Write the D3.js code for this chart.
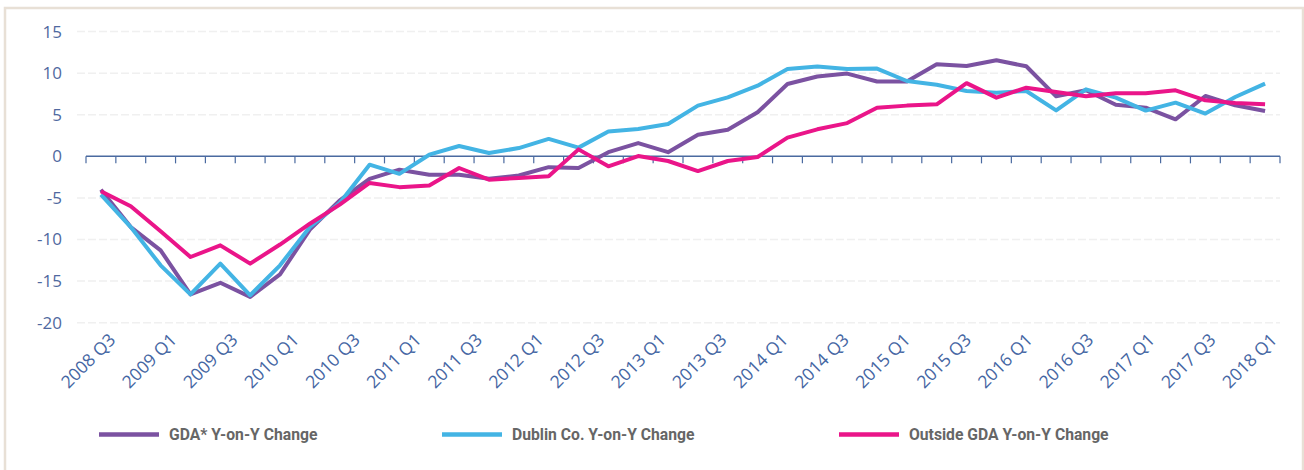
<!DOCTYPE html>
<html>
<head>
<meta charset="utf-8">
<script src="https://cdn.jsdelivr.net/npm/d3@7"></script>
<style>
  body { margin: 0; background: #fff; }
  svg { display: block; }
  .ylab { font-family: "Open Sans", sans-serif; font-weight: 400; font-size: 17px; fill: #5069a0; }
  .xlab { font-family: "Open Sans", sans-serif; font-weight: 400; font-size: 17.5px; fill: #4566a3; }
  .leg { font-family: Roboto, "Open Sans", sans-serif; font-weight: 700; font-size: 15.7px; fill: #666; }
</style>
</head>
<body>
<svg id="chart" width="1304" height="470"></svg>
<script>
const categories = [
  '2008 Q3', '2008 Q4', '2009 Q1', '2009 Q2', '2009 Q3', '2009 Q4',
  '2010 Q1', '2010 Q2', '2010 Q3', '2010 Q4', '2011 Q1', '2011 Q2',
  '2011 Q3', '2011 Q4', '2012 Q1', '2012 Q2', '2012 Q3', '2012 Q4',
  '2013 Q1', '2013 Q2', '2013 Q3', '2013 Q4', '2014 Q1', '2014 Q2',
  '2014 Q3', '2014 Q4', '2015 Q1', '2015 Q2', '2015 Q3', '2015 Q4',
  '2016 Q1', '2016 Q2', '2016 Q3', '2016 Q4', '2017 Q1', '2017 Q2',
  '2017 Q3', '2017 Q4', '2018 Q1', '2018 Q2'
];

const gdaValues = [
  -4.0, -8.5, -11.3, -16.6, -15.2, -16.9, -14.2, -8.8, -5.3, -2.7,
  -1.6, -2.2, -2.2, -2.7, -2.3, -1.3, -1.4, 0.5, 1.6, 0.5,
  2.6, 3.2, 5.3, 8.7, 9.6, 9.95, 9.0, 9.0, 11.07, 10.87,
  11.55, 10.83, 7.22, 7.94, 6.2, 5.86, 4.45, 7.26, 6.14, 5.45
];

const dublinValues = [
  -4.6, -8.5, -13.1, -16.6, -12.9, -16.7, -13.1, -8.5, -5.6, -1.0,
  -2.1, 0.2, 1.24, 0.4, 1.0, 2.1, 1.05, 3.0, 3.3, 3.9,
  6.1, 7.1, 8.5, 10.5, 10.8, 10.5, 10.55, 9.06, 8.6, 7.86,
  7.66, 7.86, 5.53, 8.06, 7.06, 5.5, 6.46, 5.14, 7.14, 8.75
];

const outsideValues = [
  -4.2, -6.0, -9.0, -12.1, -10.7, -12.9, -10.6, -8.1, -5.8, -3.2,
  -3.7, -3.5, -1.4, -2.8, -2.6, -2.4, 0.84, -1.2, 0.04, -0.56,
  -1.77, -0.56, -0.08, 2.25, 3.25, 4.0, 5.85, 6.1, 6.26, 8.8,
  7.06, 8.26, 7.74, 7.22, 7.6, 7.6, 7.94, 6.74, 6.42, 6.26
];

const yTicks = [-20, -15, -10, -5, 0, 5, 10, 15];
const tickLabels = categories.filter((d, i) => i % 2 === 0);

const series = [
  { name: 'GDA* Y-on-Y Change', values: gdaValues, color: '#7b52a1' },
  { name: 'Dublin Co. Y-on-Y Change', values: dublinValues, color: '#43b4e4' },
  { name: 'Outside GDA Y-on-Y Change', values: outsideValues, color: '#ea1589' }
];

const svg = d3.select('#chart');
const plot = { left: 86, right: 1280, top: 31.6, bottom: 322.7 };

// frame
svg.append('rect')
  .attr('x', 5).attr('y', 8)
  .attr('width', 1298).attr('height', 520)
  .attr('fill', '#fff')
  .attr('stroke', '#e8e0d6')
  .attr('stroke-width', 2.5);

const x = d3.scaleBand()
  .domain(categories)
  .range([plot.left, plot.right]);

const y = d3.scaleLinear()
  .domain([-20, 15])
  .range([plot.bottom, plot.top]);

// gridlines
svg.append('g')
  .selectAll('line')
  .data(yTicks.filter(d => d !== 0))
  .join('line')
  .attr('x1', 77).attr('x2', plot.right)
  .attr('y1', d => y(d)).attr('y2', d => y(d))
  .attr('stroke', '#f0f0f0')
  .attr('stroke-width', 1.5)
  .attr('stroke-dasharray', '8,3');

// y labels
svg.append('g')
  .selectAll('text')
  .data(yTicks)
  .join('text')
  .attr('class', 'ylab')
  .attr('x', 62)
  .attr('y', d => y(d))
  .attr('dy', '0.35em')
  .attr('text-anchor', 'end')
  .text(d => d);

// zero axis with ticks at category boundaries
const zero = y(0);
svg.append('line')
  .attr('x1', plot.left).attr('x2', plot.right)
  .attr('y1', zero).attr('y2', zero)
  .attr('stroke', '#4a6aa0')
  .attr('stroke-width', 1.5);

svg.append('g')
  .selectAll('line')
  .data(d3.range(categories.length + 1))
  .join('line')
  .attr('x1', i => plot.left + i * x.step())
  .attr('x2', i => plot.left + i * x.step())
  .attr('y1', zero).attr('y2', zero + 7)
  .attr('stroke', '#4a6aa0')
  .attr('stroke-width', 1.2);

// x labels (spread like the source, slightly wider than two bands)
const labelX = d3.scalePoint()
  .domain(tickLabels)
  .range([plot.left + (plot.right - plot.left) / 39, plot.right - 2]);

svg.append('g')
  .selectAll('text')
  .data(tickLabels)
  .join('text')
  .attr('class', 'xlab')
  .attr('text-anchor', 'end')
  .attr('transform', d => `translate(${labelX(d)},341) rotate(-45)`)
  .text(d => d);

// lines
const line = d3.line()
  .x((d, i) => x(categories[i]) + x.bandwidth() / 2)
  .y(d => y(d));

svg.append('g')
  .selectAll('path')
  .data(series)
  .join('path')
  .attr('d', d => line(d.values))
  .attr('fill', 'none')
  .attr('stroke', d => d.color)
  .attr('stroke-width', 4)
  .attr('stroke-linejoin', 'round');

// legend
const legendX = [99, 442, 839];
const legend = svg.append('g')
  .selectAll('g')
  .data(series)
  .join('g')
  .attr('transform', (d, i) => `translate(${legendX[i]},434.5)`);

legend.append('line')
  .attr('x1', 0).attr('x2', 60)
  .attr('stroke', d => d.color)
  .attr('stroke-width', 4.5);

legend.append('text')
  .attr('class', 'leg')
  .attr('x', 70)
  .attr('dy', '0.35em')
  .text(d => d.name);
</script>
</body>
</html>
